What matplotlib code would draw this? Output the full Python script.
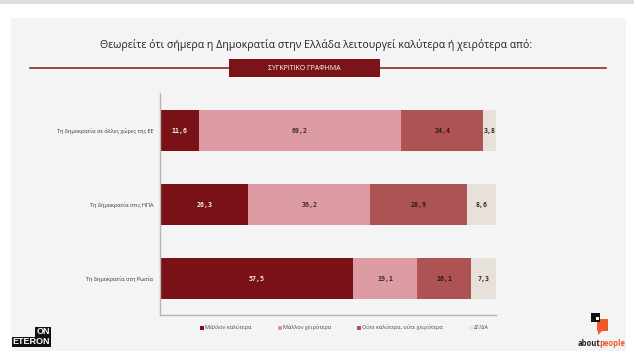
import matplotlib
matplotlib.use("Agg")
import matplotlib.pyplot as plt
from matplotlib.patches import Rectangle, Polygon
import numpy as np

W, H = 634, 362

categories = ["Τη δημοκρατία σε άλλες χώρες της ΕΕ",
              "Τη δημοκρατία στις ΗΠΑ",
              "Τη δημοκρατία στη Ρωσία"]
series_names = ["Μάλλον καλύτερα", "Μάλλον χειρότερα",
                "Ούτε καλύτερα, ούτε χειρότερα", "ΔΓ/ΔΑ"]
better = [11.6, 26.3, 57.5]
worse = [60.2, 36.2, 19.1]
neither = [24.4, 28.9, 16.1]
dkna = [3.8, 8.6, 7.3]
colors = ["#7a1116", "#dd9ba3", "#ad5353", "#e7e1d9"]
text_colors = ["#f4eeee", "#3a2a2a", "#2a1a1a", "#2a2a2a"]

title = "Θεωρείτε ότι σήμερα η Δημοκρατία στην Ελλάδα λειτουργεί καλύτερα ή χειρότερα από:"
subtitle = "ΣΥΓΚΡΙΤΙΚΟ ΓΡΑΦΗΜΑ"


def fx(x):
    return x / W


def fy(y):
    return 1 - y / H


fig = plt.figure(figsize=(W / 100, H / 100), dpi=100)
fig.patch.set_facecolor("white")

# background panel and top strip (behind the axes)
fig.patches.append(Rectangle((0, fy(4)), 1, 4 / H, transform=fig.transFigure,
                             facecolor="#dedede", edgecolor="none", zorder=-2))
fig.patches.append(Rectangle((fx(11), fy(351)), (626 - 11) / W, (351 - 18) / H,
                             transform=fig.transFigure, facecolor="#f4f4f4",
                             edgecolor="none", zorder=-2))

fig.text(fx(316), fy(45), title, ha="center", va="center", fontsize=7.6,
         family="Open Sans", color="#222222")

# rule with box
fig.add_artist(plt.Line2D([fx(30), fx(606)], [fy(67.5), fy(67.5)],
                          transform=fig.transFigure, color="#8a2a2e", lw=1.2))
fig.patches.append(Rectangle((fx(229), fy(77)), (380 - 229) / W, 18 / H,
                             transform=fig.transFigure, facecolor="#7b1418",
                             edgecolor="none", zorder=2))
fig.text(fx(304.5), fy(68), subtitle, ha="center", va="center", fontsize=5,
         family="Open Sans", color="white", zorder=3)

ax = fig.add_axes([fx(160), fy(315), (496 - 160) / W, (315 - 93) / H])
ax.set_facecolor("none")
y = np.arange(len(categories))
data = [better, worse, neither, dkna]
totals = np.sum(data, axis=0)
left = np.zeros(len(categories))
for vals, col, tc in zip(data, colors, text_colors):
    share = np.array(vals) / totals * 100
    ax.barh(y, share, left=left, height=0.55, color=col, edgecolor="none")
    for yi, l, s, v in zip(y, left, share, vals):
        ax.text(l + s / 2, yi, f"{v:.1f}".replace(".", ","),
                ha="center", va="center", fontsize=4.8, color=tc,
                family="DejaVu Sans Mono", fontweight="bold")
    left += share

ax.set_xlim(0, 100)
ax.set_ylim(2.49, -0.51)
ax.set_yticks(y)
ax.set_yticklabels(categories, fontsize=4, family="Open Sans", color="#333333")
ax.tick_params(axis="y", length=0, pad=5)
ax.set_xticks([])
for s in ["top", "right"]:
    ax.spines[s].set_visible(False)
for s in ["left", "bottom"]:
    ax.spines[s].set_color("#b5b5b5")
    ax.spines[s].set_linewidth(1)

# legend
leg_x = [200, 278, 357, 469]
for lx, name, col in zip(leg_x, series_names, colors):
    fig.patches.append(Rectangle((fx(lx), fy(329.5)), 4 / W, 4 / H,
                                 transform=fig.transFigure, facecolor=col,
                                 edgecolor="none"))
    fig.text(fx(lx + 5), fy(327.5), name, ha="left", va="center", fontsize=4,
             family="Open Sans", color="#444444")

# ON ETERON logo
fig.patches.append(Rectangle((fx(35), fy(337)), 16 / W, 10 / H,
                             transform=fig.transFigure, facecolor="#111111",
                             edgecolor="none"))
fig.patches.append(Rectangle((fx(12), fy(347)), 39 / W, 10 / H,
                             transform=fig.transFigure, facecolor="#111111",
                             edgecolor="none"))
fig.text(fx(43), fy(332), "ON", ha="center", va="center", fontsize=6.5,
         color="white", fontweight="bold", family="Liberation Sans")
fig.text(fx(31.5), fy(342), "ETERON", ha="center", va="center", fontsize=6.5,
         color="white", fontweight="bold", family="Liberation Sans")

# aboutpeople logo
fig.patches.append(Rectangle((fx(597), fy(331)), 11 / W, 12 / H,
                             transform=fig.transFigure, facecolor="#ee5a2e",
                             edgecolor="none"))
fig.patches.append(Polygon([(fx(598), fy(331)), (fx(602), fy(331)), (fx(598), fy(335))],
                           closed=True, transform=fig.transFigure,
                           facecolor="#ee5a2e", edgecolor="none"))
fig.patches.append(Rectangle((fx(591), fy(322)), 9 / W, 9 / H,
                             transform=fig.transFigure, facecolor="#111111",
                             edgecolor="none"))
fig.patches.append(Rectangle((fx(596), fy(320)), 3 / W, 3 / H,
                             transform=fig.transFigure, facecolor="white",
                             edgecolor="none"))
t1 = fig.text(fx(578), fy(344), "about", ha="left", va="center", fontsize=5.5,
              color="#222222", fontweight="bold", family="Open Sans")
fig.canvas.draw()
bb = t1.get_window_extent()
fig.text((bb.x1 - 1.5) / W, fy(344), "people", ha="left", va="center", fontsize=5.5,
         color="#ee5a2e", fontweight="bold", family="Open Sans")

fig.savefig("out.png", dpi=100)
